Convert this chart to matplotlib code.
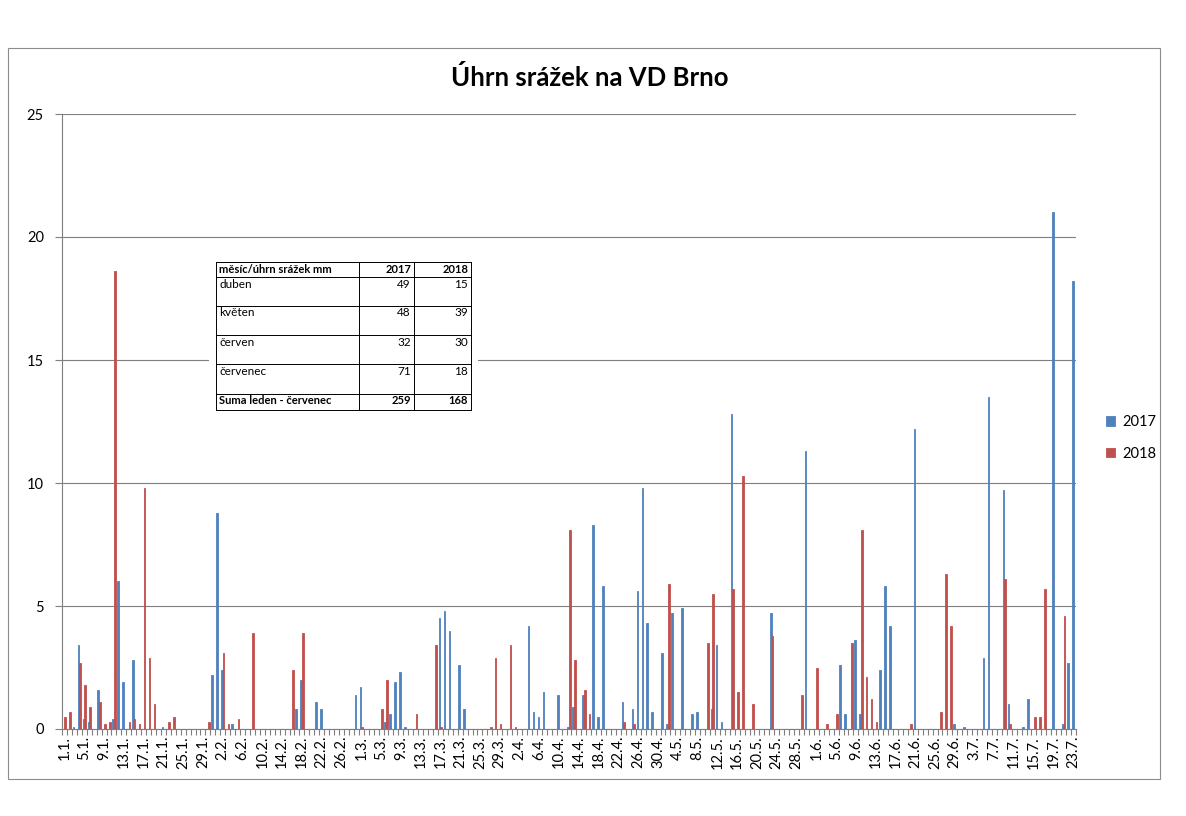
import numpy as np
import pandas as pd
import matplotlib
matplotlib.use("Agg")
import matplotlib.pyplot as plt
from matplotlib.patches import Rectangle

plt.rcParams['font.family'] = ['Lato', 'DejaVu Sans']

# denni srazky [mm], jen dny s nenulovym uhrnem
rain_2017 = {
    "3.1.": 0.1, "4.1.": 3.4, "5.1.": 0.4, "6.1.": 0.3, "8.1.": 1.6, "11.1.": 0.4,
    "12.1.": 6.0, "13.1.": 1.9, "15.1.": 2.8, "21.1.": 0.1, "31.1.": 2.2,
    "1.2.": 8.8, "2.2.": 2.4, "4.2.": 0.2, "17.2.": 0.8, "18.2.": 2.0, "21.2.": 1.1,
    "22.2.": 0.8, "29.2.": 1.4,
    "1.3.": 1.7, "6.3.": 0.3, "7.3.": 0.6, "8.3.": 1.9, "9.3.": 2.3, "10.3.": 0.1,
    "17.3.": 4.5, "18.3.": 4.8, "19.3.": 4.0, "21.3.": 2.6, "22.3.": 0.8,
    "4.4.": 4.2, "5.4.": 0.7, "6.4.": 0.5, "7.4.": 1.5, "10.4.": 1.4, "12.4.": 0.1,
    "13.4.": 0.9, "15.4.": 1.4, "17.4.": 8.3, "18.4.": 0.5, "19.4.": 5.8, "23.4.": 1.1,
    "25.4.": 0.8, "26.4.": 5.6, "27.4.": 9.8, "28.4.": 4.3, "29.4.": 0.7,
    "1.5.": 3.1, "2.5.": 0.2, "3.5.": 4.7, "5.5.": 4.9, "7.5.": 0.6, "8.5.": 0.7,
    "11.5.": 0.8, "12.5.": 3.4, "13.5.": 0.3, "15.5.": 12.8, "23.5.": 4.7, "30.5.": 11.3,
    "6.6.": 2.6, "7.6.": 0.6, "9.6.": 3.6, "10.6.": 0.6, "14.6.": 2.4, "15.6.": 5.8,
    "16.6.": 4.2, "21.6.": 12.2, "29.6.": 0.2,
    "1.7.": 0.1, "5.7.": 2.9, "6.7.": 13.5, "9.7.": 9.7, "10.7.": 1.0, "13.7.": 0.1,
    "14.7.": 1.2, "19.7.": 21.0, "21.7.": 0.2, "22.7.": 2.7, "23.7.": 18.2,
}

rain_2018 = {
    "1.1.": 0.5, "2.1.": 0.7, "4.1.": 2.7, "5.1.": 1.8, "6.1.": 0.9, "8.1.": 1.1,
    "9.1.": 0.2, "10.1.": 0.3, "11.1.": 18.6, "14.1.": 0.3, "15.1.": 0.4, "16.1.": 0.2,
    "17.1.": 9.8, "18.1.": 2.9, "19.1.": 1.0, "22.1.": 0.3, "23.1.": 0.5, "30.1.": 0.3,
    "2.2.": 3.1, "3.2.": 0.2, "5.2.": 0.4, "8.2.": 3.9, "16.2.": 2.4, "18.2.": 3.9,
    "1.3.": 0.1, "5.3.": 0.8, "6.3.": 2.0, "12.3.": 0.6, "16.3.": 3.4, "17.3.": 0.1,
    "27.3.": 0.1, "28.3.": 2.9, "29.3.": 0.2, "31.3.": 3.4,
    "1.4.": 0.1, "12.4.": 8.1, "13.4.": 2.8, "15.4.": 1.6, "16.4.": 0.6, "23.4.": 0.3,
    "25.4.": 0.2,
    "2.5.": 5.9, "10.5.": 3.5, "11.5.": 5.5, "15.5.": 5.7, "16.5.": 1.5, "17.5.": 10.3,
    "19.5.": 1.0, "23.5.": 3.8, "29.5.": 1.4,
    "1.6.": 2.5, "3.6.": 0.2, "5.6.": 0.6, "8.6.": 3.5, "10.6.": 8.1, "11.6.": 2.1,
    "12.6.": 1.2, "13.6.": 0.3, "20.6.": 0.2, "26.6.": 0.7, "27.6.": 6.3, "28.6.": 4.2,
    "9.7.": 6.1, "10.7.": 0.2, "15.7.": 0.5, "16.7.": 0.5, "17.7.": 5.7, "21.7.": 4.6,
}

# tabulka mesicnich uhrnu
table_header = ["měsíc/úhrn srážek mm", "2017", "2018"]
table_months = ["duben", "květen", "červen", "červenec"]
table_2017 = [49, 48, 32, 71]
table_2018 = [15, 39, 30, 18]
table_sum = ["Suma leden - červenec", 259, 168]

# kategorie 1.1. - 23.7. (vcetne 29.2.)
days = pd.date_range("2016-01-01", "2016-07-23", freq="D")
labels = ["%d.%d." % (d.day, d.month) for d in days]
v17 = np.array([rain_2017.get(l, 0.0) for l in labels])
v18 = np.array([rain_2018.get(l, 0.0) for l in labels])
x = np.arange(len(labels))

W, H = 1186, 816
fig = plt.figure(figsize=(W / 100, H / 100), dpi=100)


def fx(px):
    return px / W


def fy(py):
    return 1 - py / H


# ramecek grafu
fig.patches.append(Rectangle((fx(8), fy(779)), fx(1152), 731 / H, transform=fig.transFigure,
                             fill=False, edgecolor='#8c8c8c', lw=0.8))

ax = fig.add_axes([fx(62), fy(729), fx(1076 - 62), (729 - 114) / H])
bw = 0.34
b1 = ax.bar(x - bw / 2, v17, width=bw, color='#4F81BD', label='2017', zorder=3,
            linewidth=0.6, edgecolor='#4F81BD')
b2 = ax.bar(x + bw / 2, v18, width=bw, color='#C0504D', label='2018', zorder=3,
            linewidth=0.6, edgecolor='#C0504D')

ax.set_xlim(-0.5, len(labels) - 0.5)
ax.set_ylim(0, 25)
ax.set_yticks([0, 5, 10, 15, 20, 25])
ax.yaxis.grid(True, color='#7f7f7f', lw=0.8, zorder=0)
ax.set_axisbelow(True)

ax.set_xticks(x[::4])
ax.set_xticklabels(labels[::4], rotation=90, fontsize=10.5)
ax.set_xticks(np.arange(len(labels) + 1) - 0.5, minor=True)
ax.tick_params(axis='x', which='major', length=0, pad=5)
ax.tick_params(axis='x', which='minor', length=4, color='#7f7f7f', width=0.8)
ax.tick_params(axis='y', length=5, color='#7f7f7f', width=0.8, labelsize=10.5, pad=8)

for s in ['top', 'right']:
    ax.spines[s].set_visible(False)
for s in ['left', 'bottom']:
    ax.spines[s].set_color('#7f7f7f')
    ax.spines[s].set_linewidth(0.8)

fig.text(fx(590), fy(78), "Úhrn srážek na VD Brno", ha='center', va='center',
         fontsize=18.5, fontweight='bold')

fig.legend(handles=[b1, b2], labels=['2017', '2018'], loc='center left',
           bbox_to_anchor=(fx(1093), fy(438)), frameon=False, fontsize=10.5,
           handlelength=0.6, handleheight=0.6, handletextpad=0.5, labelspacing=1.2)

# vlozena tabulka
cols = [216, 359, 414, 471]
rows = [262, 277, 306, 335, 364, 394, 410]
fig.patches.append(Rectangle((fx(cols[0] - 7), fy(rows[-1] + 7)), fx(cols[-1] - cols[0] + 14),
                             (rows[-1] - rows[0] + 14) / H, transform=fig.transFigure,
                             facecolor='white', edgecolor='none', zorder=5))
for r in rows:
    fig.add_artist(plt.Line2D([fx(cols[0]), fx(cols[-1])], [fy(r), fy(r)],
                              color='black', lw=0.7, zorder=6))
for c in cols:
    fig.add_artist(plt.Line2D([fx(c), fx(c)], [fy(rows[0]), fy(rows[-1])],
                              color='black', lw=0.7, zorder=6))

cells = [table_header] + [[m, a, b] for m, a, b in zip(table_months, table_2017, table_2018)] + [table_sum]
for k, row in enumerate(cells):
    top = rows[k] + 1.5
    bold = k in (0, len(cells) - 1)
    fw = 'bold' if bold else 'normal'
    tfs = 8 if bold else 8.5
    fig.text(fx(cols[0] + 3), fy(top), str(row[0]), ha='left', va='top', fontsize=tfs,
             fontweight=fw, zorder=7)
    fig.text(fx(cols[2] - 3), fy(top), str(row[1]), ha='right', va='top', fontsize=tfs,
             fontweight=fw, zorder=7)
    fig.text(fx(cols[3] - 3), fy(top), str(row[2]), ha='right', va='top', fontsize=tfs,
             fontweight=fw, zorder=7)

fig.savefig("out.png", dpi=100, facecolor='white')
